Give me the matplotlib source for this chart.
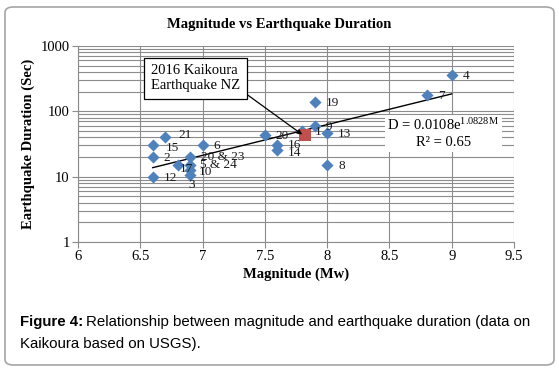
import numpy as np
import matplotlib.pyplot as plt
from matplotlib.patches import FancyBboxPatch

# data
mags = [7.8, 6.6, 6.9, 9.0, 6.9, 7.0, 8.8, 8.0, 7.9, 6.9, 6.6, 8.0, 7.6, 6.6, 7.6, 6.8, 7.9, 7.5, 6.9, 6.7]
durs = [50, 20, 10.5, 360, 15, 30, 178, 15, 60, 12.7, 10, 47, 25.5, 30.5, 30.5, 15, 140, 43, 20, 41]
labels = ['1', '2', '3', '4', '5 & 24', '6', '7', '8', '9', '10', '12', '13', '14', '15', '16',
          '17', '19', '20', '20 & 23', '21']
kaikoura_mag = 7.82
kaikoura_dur = 43
fit_a = 0.0108
fit_b = 1.0828
fit_range = [6.6, 9.0]

# label offsets in pixels
offs = {'3': (-2, -13), '17': (2, -7), '10': (9, -5), '5 & 24': (10, -3), '20 & 23': (11, -3),
        '21': (13, -1), '15': (13, -6), '14': (10, -6), '16': (10, -3), '1': (13, -4)}

plt.rcParams['font.family'] = ['Liberation Serif', 'DejaVu Serif']
plt.rcParams['mathtext.fontset'] = 'custom'
plt.rcParams['mathtext.rm'] = 'Liberation Serif'

fig = plt.figure(figsize=(5.59, 3.70), dpi=100)
ax = fig.add_axes([0.1395, 0.346, 0.78, 0.530])

ax.set_yscale('log')
ax.set_xlim(6, 9.5)
ax.set_ylim(1, 1000)
ax.set_xticks(np.arange(6, 9.51, 0.5))
ax.set_xticklabels(['6', '6.5', '7', '7.5', '8', '8.5', '9', '9.5'])
ax.set_yticks([1, 10, 100, 1000])
ax.set_yticklabels(['1', '10', '100', '1000'])
ax.grid(True, which='both', axis='y', color='#8c8c8c', lw=0.8)
ax.grid(True, which='major', axis='x', color='#8c8c8c', lw=0.8)
ax.tick_params(which='minor', left=False, labelleft=False)
ax.tick_params(which='major', length=4, color='#8c8c8c', labelsize=10.5, pad=2)
for s in ['top', 'right']:
    ax.spines[s].set_visible(False)
for s in ['left', 'bottom']:
    ax.spines[s].set_color('#8c8c8c')
ax.set_axisbelow(True)

mm = np.linspace(fit_range[0], fit_range[1], 50)
ax.plot(mm, fit_a * np.exp(fit_b * mm), color='black', lw=1.0, zorder=2)

ax.scatter(mags, durs, marker='D', s=38, color='#4f81bd', zorder=3, linewidths=0)
for m, d, lab in zip(mags, durs, labels):
    ax.annotate(lab, (m, d), xytext=offs.get(lab, (11, -4)), textcoords='offset pixels',
                fontsize=9.5, color='#1a1a1a', zorder=4)

ax.annotate('22', (kaikoura_mag, kaikoura_dur), xytext=(-7, -6), textcoords='offset pixels',
            fontsize=9.5, color='#1a1a1a', zorder=4)
ax.scatter([kaikoura_mag], [kaikoura_dur], marker='s', s=70, color='#c0504d', zorder=5, linewidths=0)

ax.annotate('2016 Kaikoura\nEarthquake NZ', xy=(kaikoura_mag - 0.02, kaikoura_dur + 1),
            xytext=(6.585, 320), textcoords='data', fontsize=10.5, va='center', ha='left',
            bbox=dict(boxstyle='square,pad=0.45', fc='white', ec='black', lw=0.9),
            arrowprops=dict(arrowstyle='-|>', color='black', lw=0.9, shrinkA=0, shrinkB=0,
                            mutation_scale=7, relpos=(1.0, 0.1)),
            zorder=6)

ax.text(0.838, 0.555, 'D = 0.0108e$\\mathregular{^{1.0828M}}$\nR² = 0.65', transform=ax.transAxes,
        fontsize=10.5, ha='center', va='center', linespacing=1.25,
        bbox=dict(boxstyle='square,pad=0.2', fc='white', ec='none'), zorder=6)

ax.set_xlabel('Magnitude (Mw)', fontsize=10.5, fontweight='bold', labelpad=3)
ax.set_ylabel('Earthquake Duration (Sec)', fontsize=10.5, fontweight='bold', labelpad=4)
fig.text(0.5, 0.935, 'Magnitude vs Earthquake Duration', ha='center', va='center',
         fontsize=10.5, fontweight='bold')

border = FancyBboxPatch((5 / 559, 5 / 370), 549 / 559, 358 / 370, transform=fig.transFigure,
                        boxstyle='round,pad=0,rounding_size=0.015', fc='none', ec='#a6a6a6', lw=1.2)
fig.patches.append(border)

sans = ['Liberation Sans', 'DejaVu Sans']
cap_bold = fig.text(20 / 559, 1 - 322 / 370, 'Figure 4:', fontsize=10.8, fontweight='bold',
                    family=sans, va='center')
fig.canvas.draw()
bb = cap_bold.get_window_extent().transformed(fig.transFigure.inverted())
fig.text(bb.x1 + 3 / 559, 1 - 322 / 370, 'Relationship between magnitude and earthquake duration (data on',
         fontsize=10.8, family=sans, va='center')
fig.text(20 / 559, 1 - 344 / 370, 'Kaikoura based on USGS).', fontsize=10.8, family=sans, va='center')

fig.savefig('out.png', dpi=100)
